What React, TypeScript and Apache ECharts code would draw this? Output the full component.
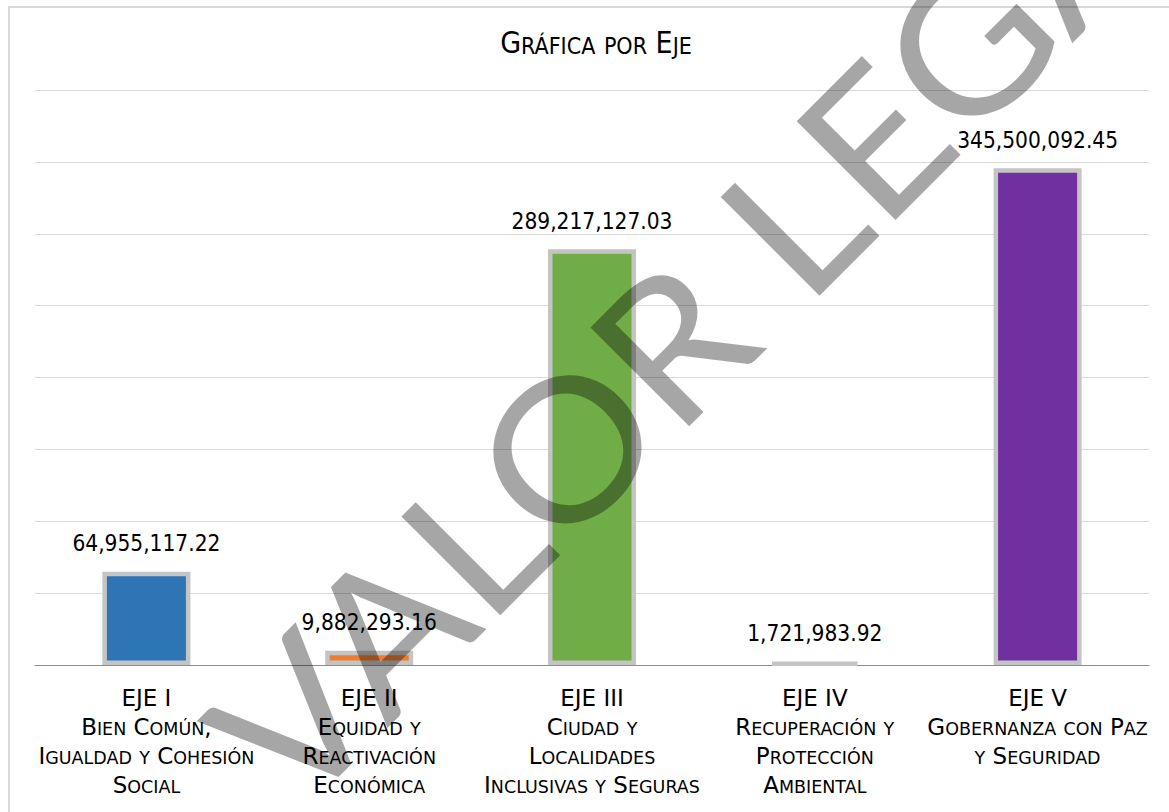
import React, { useEffect, useRef } from "react";
import * as echarts from "echarts";

const TITLE = "Gráfica por Eje";
const CATEGORIES = ["EJE I", "EJE II", "EJE III", "EJE IV", "EJE V"];
const SUBTITLES = [
  "Bien Común,\nIgualdad y Cohesión\nSocial",
  "Equidad y\nReactivación\nEconómica",
  "Ciudad y\nLocalidades\nInclusivas y Seguras",
  "Recuperación y\nProtección\nAmbiental",
  "Gobernanza con Paz\ny Seguridad",
];
const VALUES = [64955117.22, 9882293.16, 289217127.03, 1721983.92, 345500092.45];
const COLORS = ["#2E75B6", "#ED7D31", "#70AD47", "#A5A5A5", "#7030A0"];
const WATERMARK = "VALOR LEGAL";

const COND = "'DejaVu Sans Condensed', 'Noto Sans', sans-serif";
const REG = "'DejaVu Sans', sans-serif";

function smallCaps(line: string, big: string, small: string): string {
  let out = "";
  let i = 0;
  while (i < line.length) {
    const lower = line[i] !== line[i].toUpperCase();
    let j = i;
    while (j < line.length && (line[j] !== line[j].toUpperCase()) === lower) j++;
    const seg = line.slice(i, j);
    out += lower ? `{${small}|${seg.toUpperCase()}}` : `{${big}|${seg}}`;
    i = j;
  }
  return out;
}

function fmt(v: number): string {
  return v.toLocaleString("en-US", { minimumFractionDigits: 2, maximumFractionDigits: 2 });
}

export default function App() {
  const ref = useRef<HTMLDivElement>(null);
  useEffect(() => {
    if (!ref.current) return;
    const chart = echarts.init(ref.current, null, { renderer: "svg" });
    const titleText = smallCaps(TITLE, "B", "s");
    chart.setOption({
      animation: false,
      backgroundColor: "#ffffff",
      title: {
        text: titleText,
        left: 591,
        top: 18,
        textAlign: "center",
        textStyle: {
          fontWeight: "normal",
          rich: {
            B: { fontSize: 30, fontFamily: COND, fontWeight: "normal", color: "#000", verticalAlign: "bottom", lineHeight: 34 },
            s: { fontSize: 23, fontFamily: COND, fontWeight: "normal", color: "#000", verticalAlign: "bottom", lineHeight: 34 },
          },
        },
      },
      grid: { left: 35, right: 20, top: 90, bottom: 147, containLabel: false, outerBoundsMode: "none" },
      xAxis: {
        type: "category",
        data: CATEGORIES,
        axisLine: { lineStyle: { color: "#8c8c8c", width: 1 } },
        axisTick: { length: 8, lineStyle: { color: "#8c8c8c" } },
        axisLabel: {
          interval: 0,
          hideOverlap: false,
          margin: 14,
          formatter: (val: string, idx: number) => {
            const sub = SUBTITLES[idx].split("\n").map((l) => smallCaps(l, "B", "s"));
            return [`{h|${val}}`, ...sub].join("\n");
          },
          rich: {
            h: { fontSize: 23, fontFamily: REG, color: "#000", lineHeight: 30, verticalAlign: "bottom" },
            B: { fontSize: 23, fontFamily: REG, color: "#000", lineHeight: 29, verticalAlign: "bottom" },
            s: { fontSize: 17.5, fontFamily: REG, color: "#000", lineHeight: 29, verticalAlign: "bottom" },
          },
        },
      },
      yAxis: {
        type: "value",
        min: 0,
        max: 400000000,
        interval: 50000000,
        axisLabel: { show: false },
        axisLine: { show: false },
        axisTick: { show: false },
        splitLine: { lineStyle: { color: "#d9d9d9", width: 1 } },
      },
      series: [
        {
          type: "bar",
          barWidth: 88,
          data: VALUES.map((v, i) => ({
            value: v,
            itemStyle: { color: COLORS[i], borderColor: "#c4c4c4", borderWidth: 4.5 },
          })),
          label: {
            show: true,
            position: "top",
            distance: 17,
            formatter: (p: any) => fmt(p.value),
            fontSize: 22.5,
            fontFamily: COND,
            color: "#000",
          },
        },
      ],
      graphic: [
        {
          type: "rect",
          shape: { x: 9, y: 7, width: 1200, height: 900 },
          style: { fill: "none", stroke: "#d9d9d9", lineWidth: 2 },
          z: -10,
          silent: true,
        },
        {
          type: "text",
          x: 718,
          y: 291,
          rotation: Math.PI / 4,
          scaleX: 1.07,
          z: 100,
          silent: true,
          style: {
            text: WATERMARK,
            fontSize: 195,
            fontWeight: 400,
            fontFamily: "Lato, 'Open Sans', sans-serif",
            fill: "rgba(0,0,0,0.35)",
            align: "center",
            verticalAlign: "middle",
            textAlign: "center",
            textVerticalAlign: "middle",
          },
        },
      ],
    });
    return () => chart.dispose();
  }, []);
  return (
    <div
      ref={ref}
      style={{ position: "fixed", left: 0, top: 0, width: 1169, height: 812, background: "#fff" }}
    />
  );
}
